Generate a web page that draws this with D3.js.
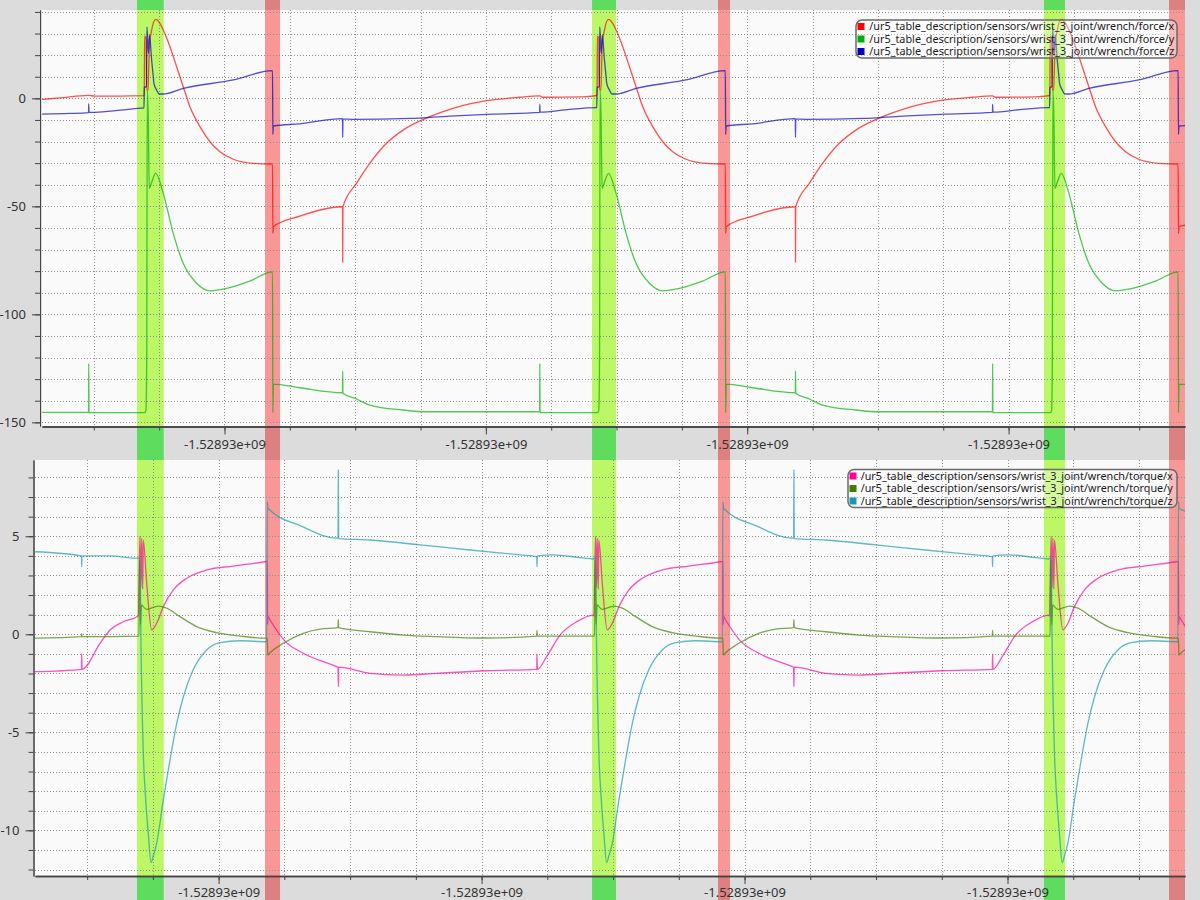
<!DOCTYPE html>
<html><head><meta charset="utf-8">
<script src="https://cdn.jsdelivr.net/npm/d3@7"></script>
<style>
body{margin:0;background:#dcdcdc;}
svg{display:block;font-family:"Noto Sans",sans-serif;}
</style>
</head><body>
<svg id="c" width="1200" height="900"></svg>
<script>
// ---------------- data ----------------
const timeDomain = [0.207, 17.70];
const xTicks = [1,2,3,4,5,6,7,8,9,10,11,12,13,14,15,16,17];
const xLabelTicks = [3,7,11,15];
const xTickLabel = "-1.52893e+09";

const forceMajorTicks = [-150,-100,-50,0];
const forceMinorTicks = [-150,-140,-130,-120,-110,-100,-90,-80,-70,-60,-50,-40,-30,-20,-10,0,10,20,30,40];
const torqueMajorTicks = [-10,-5,0,5];
const torqueMinorTicks = [-12,-11,-10,-9,-8,-7,-6,-5,-4,-3,-2,-1,0,1,2,3,4,5,6,7,8];

const greenBands = [[1.661,2.070],[8.625,8.992],[15.542,15.863]];
const redBands = [[3.620,3.850],[10.553,10.737],[17.455,17.70]];

const forceNames = ["/ur5_table_description/sensors/wrist_3_joint/wrench/force/x",
                    "/ur5_table_description/sensors/wrist_3_joint/wrench/force/y",
                    "/ur5_table_description/sensors/wrist_3_joint/wrench/force/z"];
const torqueNames = ["/ur5_table_description/sensors/wrist_3_joint/wrench/torque/x",
                     "/ur5_table_description/sensors/wrist_3_joint/wrench/torque/y",
                     "/ur5_table_description/sensors/wrist_3_joint/wrench/torque/z"];
const forceColors = ["#ff0000","#00b000","#0000c0"];
const torqueColors = ["#ff0099","#3f7f00","#1899b0"];

const forceX = [[0.208,-0.5],[0.483,0.2],[0.922,1.4],[1.018,1.0],[1.772,1.3],[1.777,28.8],[1.798,28.0],[1.810,3.8],[1.829,4.0],[1.852,25],[1.885,31.6],[1.947,36.6],[2.012,34.7],[2.063,31.6],[2.165,23.9],[2.268,14.6],[2.368,5.4],[2.471,-3.9],[2.624,-13.1],[2.777,-20.1],[2.930,-24.7],[3.133,-28.2],[3.439,-30.1],[3.720,-30.4],[3.735,-30.4],[3.740,-62.5],[3.748,-59.4],[4.153,-54.5],[4.806,-50.2],[4.809,-75.9],[4.813,-50.2],[5.020,-39.4],[5.223,-30.1],[5.479,-20.8],[5.732,-14.7],[6.141,-8.5],[6.497,-4.6],[7.008,-1.1],[7.517,0.5],[7.823,1.1],[7.873,0.5],[8.485,0.7],[8.679,1.2],
[8.702,1.3],[8.707,28.8],[8.728,28.0],[8.740,3.8],[8.759,4.0],[8.782,25],[8.815,31.6],[8.877,36.6],[8.942,34.7],[8.993,31.6],[9.095,23.9],[9.198,14.6],[9.298,5.4],[9.401,-3.9],[9.554,-13.1],[9.707,-20.1],[9.860,-24.7],[10.063,-28.2],[10.369,-30.1],[10.650,-30.4],[10.665,-30.4],[10.670,-62.5],[10.678,-59.4],[11.083,-54.5],[11.736,-50.2],[11.739,-75.9],[11.743,-50.2],[11.950,-39.4],[12.153,-30.1],[12.409,-20.8],[12.662,-14.7],[13.071,-8.5],[13.427,-4.6],[13.938,-1.1],[14.447,0.5],[14.753,1.1],[14.803,0.5],[15.415,0.7],[15.609,1.2],
[15.632,1.3],[15.637,28.8],[15.658,28.0],[15.670,3.8],[15.689,4.0],[15.712,25],[15.745,31.6],[15.807,36.6],[15.872,34.7],[15.923,31.6],[16.025,23.9],[16.128,14.6],[16.228,5.4],[16.331,-3.9],[16.484,-13.1],[16.637,-20.1],[16.790,-24.7],[16.993,-28.2],[17.299,-30.1],[17.580,-30.4],[17.595,-30.4],[17.600,-62.5],[17.608,-59.4],[17.8,-58.4]];

const forceY = [[0.208,-145.4],[0.919,-145.4],[0.922,-122.7],[0.927,-145.5],[1.775,-145.5],[1.798,-144.5],[1.810,-120],[1.818,3.8],[1.833,-8],[1.849,-41.7],[1.883,-39],[1.947,-34.7],[2.063,-44],[2.216,-62.5],[2.368,-76.4],[2.573,-85.6],[2.777,-89.1],[3.032,-88],[3.388,-84.6],[3.735,-80.3],[3.740,-145.5],[3.748,-132.3],[4.153,-134],[4.806,-136.3],[4.809,-126.3],[4.813,-136.5],[5.020,-139.2],[5.223,-142],[5.732,-144.3],[6.090,-145.1],[7.823,-145.1],[7.826,-122.7],[7.830,-145.5],[8.664,-145.5],
[8.705,-145.5],[8.728,-144.5],[8.740,-120],[8.748,3.8],[8.763,-8],[8.779,-41.7],[8.813,-39],[8.877,-34.7],[8.993,-44],[9.146,-62.5],[9.298,-76.4],[9.503,-85.6],[9.707,-89.1],[9.962,-88],[10.318,-84.6],[10.665,-80.3],[10.670,-145.5],[10.678,-132.3],[11.083,-134],[11.736,-136.3],[11.739,-126.3],[11.743,-136.5],[11.950,-139.2],[12.153,-142],[12.662,-144.3],[13.020,-145.1],[14.753,-145.1],[14.756,-122.7],[14.760,-145.5],[15.594,-145.5],
[15.635,-145.5],[15.658,-144.5],[15.670,-120],[15.678,3.8],[15.693,-8],[15.709,-41.7],[15.743,-39],[15.807,-34.7],[15.923,-44],[16.076,-62.5],[16.228,-76.4],[16.433,-85.6],[16.637,-89.1],[16.892,-88],[17.248,-84.6],[17.595,-80.3],[17.600,-145.5],[17.608,-132.3],[17.8,-132.8]];

const forceZ = [[0.208,-7.3],[0.636,-7.0],[0.919,-6.6],[0.922,-2.6],[0.927,-6.5],[1.680,-4.6],[1.768,-4.4],[1.772,5.1],[1.806,5.4],[1.813,33.1],[1.836,20.8],[1.852,29.5],[1.885,17.7],[1.910,10],[1.920,6.9],[1.962,3.8],[2.002,2.0],[2.063,2.0],[2.368,4.6],[3.133,8.5],[3.735,12.8],[3.740,-16.7],[3.748,-12.8],[4.153,-11.8],[4.806,-9.4],[4.809,-18.1],[4.813,-9.6],[4.968,-9.7],[5.835,-9.3],[6.446,-8.2],[7.109,-7.3],[7.823,-6.5],[7.826,-2.8],[7.830,-6.4],[8.281,-5.1],[8.679,-4.3],
[8.698,-4.4],[8.702,5.1],[8.736,5.4],[8.743,33.1],[8.766,20.8],[8.782,29.5],[8.815,17.7],[8.840,10],[8.850,6.9],[8.892,3.8],[8.932,2.0],[8.993,2.0],[9.298,4.6],[10.063,8.5],[10.665,12.8],[10.670,-16.7],[10.678,-12.8],[11.083,-11.8],[11.736,-9.4],[11.739,-18.1],[11.743,-9.6],[11.898,-9.7],[12.765,-9.3],[13.376,-8.2],[14.039,-7.3],[14.753,-6.5],[14.756,-2.8],[14.760,-6.4],[15.211,-5.1],[15.609,-4.3],
[15.628,-4.4],[15.632,5.1],[15.666,5.4],[15.673,33.1],[15.696,20.8],[15.712,29.5],[15.745,17.7],[15.770,10],[15.780,6.9],[15.822,3.8],[15.862,2.0],[15.923,2.0],[16.228,4.6],[16.993,8.5],[17.595,12.8],[17.600,-16.7],[17.608,-12.8],[17.8,-12.5]];

const torqueX = [[0.207,-1.91],[0.914,-1.79],[0.917,-1.0],[0.922,-1.79],[1.196,-0.46],[1.348,0.22],[1.550,0.64],[1.778,0.93],[1.804,5.0],[1.819,2.4],[1.830,4.9],[1.845,2.3],[1.854,4.8],[1.906,2.6],[1.982,0.22],[2.058,0.56],[2.159,1.41],[2.311,2.26],[2.515,2.86],[2.819,3.28],[3.223,3.48],[3.706,3.7],[3.741,3.72],[3.744,0.5],[3.751,0.9],[3.782,0.73],[4.010,-0.35],[4.288,-0.97],[4.796,-1.65],[4.816,-1.68],[4.821,-2.67],[4.826,-1.68],[5.303,-1.99],[5.809,-2.08],[6.317,-1.99],[7.078,-1.86],[7.839,-1.79],[7.843,-1.0],[7.848,-1.79],[7.990,-1.14],[8.193,-0.04],[8.447,0.64],[8.699,0.98],
[8.708,0.93],[8.734,5.0],[8.749,2.4],[8.760,4.9],[8.775,2.3],[8.784,4.8],[8.836,2.6],[8.912,0.22],[8.988,0.56],[9.089,1.41],[9.241,2.26],[9.445,2.86],[9.749,3.28],[10.153,3.48],[10.636,3.7],[10.671,3.72],[10.674,0.5],[10.681,0.9],[10.712,0.73],[10.940,-0.35],[11.218,-0.97],[11.726,-1.65],[11.746,-1.68],[11.751,-2.67],[11.756,-1.68],[12.233,-1.99],[12.739,-2.08],[13.247,-1.99],[14.008,-1.86],[14.769,-1.79],[14.773,-1.0],[14.778,-1.79],[14.920,-1.14],[15.123,-0.04],[15.377,0.64],[15.629,0.98],
[15.638,0.93],[15.664,5.0],[15.679,2.4],[15.690,4.9],[15.705,2.3],[15.714,4.8],[15.766,2.6],[15.842,0.22],[15.918,0.56],[16.019,1.41],[16.171,2.26],[16.375,2.86],[16.679,3.28],[17.083,3.48],[17.566,3.7],[17.601,3.72],[17.604,0.5],[17.611,0.9],[17.642,0.73],[17.8,-0.05]];

const torqueY = [[0.207,-0.2],[0.914,-0.12],[0.917,0.03],[0.922,-0.12],[1.789,-0.09],[1.797,3.8],[1.812,0.5],[1.827,1.5],[1.854,1.41],[1.906,1.27],[2.083,1.44],[2.210,1.33],[2.413,0.9],[2.667,0.39],[2.971,0.08],[3.325,-0.09],[3.706,-0.2],[3.741,-0.2],[3.746,-1.06],[3.782,-0.94],[3.984,-0.46],[4.288,0.05],[4.542,0.26],[4.816,0.34],[4.821,0.75],[4.826,0.34],[5.303,0.13],[5.809,-0.04],[6.317,-0.12],[7.078,-0.19],[7.839,-0.09],[7.843,0.2],[7.848,-0.09],[8.699,-0.09],
[8.719,-0.09],[8.727,3.8],[8.742,0.5],[8.757,1.5],[8.784,1.41],[8.836,1.27],[9.013,1.44],[9.140,1.33],[9.343,0.9],[9.597,0.39],[9.901,0.08],[10.255,-0.09],[10.636,-0.2],[10.671,-0.2],[10.676,-1.06],[10.712,-0.94],[10.914,-0.46],[11.218,0.05],[11.472,0.26],[11.746,0.34],[11.751,0.75],[11.756,0.34],[12.233,0.13],[12.739,-0.04],[13.247,-0.12],[14.008,-0.19],[14.769,-0.09],[14.773,0.2],[14.778,-0.09],[15.629,-0.09],
[15.649,-0.09],[15.657,3.8],[15.672,0.5],[15.687,1.5],[15.714,1.41],[15.766,1.27],[15.943,1.44],[16.070,1.33],[16.273,0.9],[16.527,0.39],[16.831,0.08],[17.185,-0.09],[17.566,-0.2],[17.601,-0.2],[17.606,-1.06],[17.642,-0.94],[17.8,-0.6]];

const torqueZ = [[0.207,4.21],[0.914,4.0],[0.917,3.45],[0.922,4.0],[1.348,4.0],[1.778,3.88],[1.804,3.9],[1.819,-0.5],[1.854,-6.0],[1.891,-8.45],[1.930,-10.15],[1.972,-11.65],[2.007,-11.3],[2.058,-10.66],[2.159,-8.45],[2.261,-6.4],[2.363,-4.54],[2.463,-3.2],[2.615,-1.8],[2.819,-0.8],[3.021,-0.43],[3.325,-0.33],[3.732,-0.38],[3.741,6.77],[3.751,6.43],[4.25,5.53],[4.796,4.9],[4.816,4.9],[4.821,8.38],[4.826,4.88],[5.303,4.81],[6.064,4.56],[6.824,4.3],[7.585,4.05],[7.839,3.96],[7.843,3.45],[7.848,4.0],[8.091,4.05],[8.497,3.91],[8.699,3.84],
[8.708,3.88],[8.734,3.9],[8.749,-0.5],[8.784,-6.0],[8.821,-8.45],[8.860,-10.15],[8.902,-11.65],[8.937,-11.3],[8.988,-10.66],[9.089,-8.45],[9.191,-6.4],[9.293,-4.54],[9.393,-3.2],[9.545,-1.8],[9.749,-0.8],[9.951,-0.43],[10.255,-0.33],[10.662,-0.38],[10.671,6.77],[10.681,6.43],[11.18,5.53],[11.726,4.9],[11.746,4.9],[11.751,8.38],[11.756,4.88],[12.233,4.81],[12.994,4.56],[13.754,4.3],[14.515,4.05],[14.769,3.96],[14.773,3.45],[14.778,4.0],[15.021,4.05],[15.427,3.91],[15.629,3.84],
[15.638,3.88],[15.664,3.9],[15.679,-0.5],[15.714,-6.0],[15.751,-8.45],[15.790,-10.15],[15.832,-11.65],[15.867,-11.3],[15.918,-10.66],[16.019,-8.45],[16.121,-6.4],[16.223,-4.54],[16.323,-3.2],[16.475,-1.8],[16.679,-0.8],[16.881,-0.43],[17.185,-0.33],[17.592,-0.38],[17.601,6.77],[17.611,6.43],[17.8,6.2]];

// ---------------- layout ----------------
const W = 1200, H = 900;
const panels = [
  {id:"top", left:42, right:1185, top:10, bottom:426, axisX:40, axisY:426.5, labelY:449,
   yDomain:[-151.7, 40.9], major:forceMajorTicks, minor:forceMinorTicks,
   series:[forceX, forceY, forceZ], names:forceNames, colors:forceColors,
   legend:{x:856, y:20, w:321, h:38, sq:857.5, tx:869.3, tl:305}},
  {id:"bot", left:35, right:1185, top:460, bottom:876, axisX:33.5, axisY:876, labelY:896.5,
   yDomain:[-12.33, 8.89], major:torqueMajorTicks, minor:torqueMinorTicks,
   series:[torqueX, torqueY, torqueZ], names:torqueNames, colors:torqueColors,
   legend:{x:848, y:469.5, w:329, h:38, sq:849.5, tx:860.7, tl:312}}
];

const svg = d3.select("#c");
svg.append("rect").attr("width",W).attr("height",H).attr("fill","#dcdcdc");

// band overlay (same pixels in both panels)
const bandX = d3.scaleLinear().domain(timeDomain).range([panels[0].left, panels[0].right]);
const bandDark = {g:"#5edc5e", r:"#dc8080"};
const bandLight = {g:"#bcf766", r:"#f99696"};

function drawBands(g, y0, y1, colors){
  g.selectAll(null).data(greenBands).enter().append("rect")
    .attr("x",d=>bandX(d[0])).attr("width",d=>bandX(d[1])-bandX(d[0]))
    .attr("y",y0).attr("height",y1-y0).attr("fill",colors.g);
  g.selectAll(null).data(redBands).enter().append("rect")
    .attr("x",d=>bandX(d[0])).attr("width",d=>bandX(d[1])-bandX(d[0]))
    .attr("y",y0).attr("height",y1-y0).attr("fill",colors.r);
}
drawBands(svg.append("g"), 0, H, bandDark);

panels.forEach((p,pi)=>{
  const x = d3.scaleLinear().domain(timeDomain).range([p.left, p.right]);
  const y = d3.scaleLinear().domain(p.yDomain).range([p.bottom, p.top]);
  const g = svg.append("g");

  g.append("rect").attr("x",p.left).attr("y",p.top).attr("width",p.right-p.left)
    .attr("height",p.bottom-p.top).attr("fill","#fafafa");
  const clipId = "clip"+pi;
  svg.append("clipPath").attr("id",clipId).append("rect")
    .attr("x",p.left).attr("y",p.top).attr("width",p.right-p.left).attr("height",p.bottom-p.top);
  const inner = g.append("g").attr("clip-path",`url(#${clipId})`);
  drawBands(inner, p.top, p.bottom, bandLight);

  // grid
  inner.selectAll(null).data(p.minor).enter().append("line")
    .attr("x1",p.left).attr("x2",p.right).attr("y1",d=>Math.round(y(d))+0.5).attr("y2",d=>Math.round(y(d))+0.5)
    .attr("stroke","#909090").attr("stroke-width",1).attr("stroke-dasharray","1,2");
  inner.selectAll(null).data(xTicks).enter().append("line")
    .attr("y1",p.top).attr("y2",p.bottom).attr("x1",d=>Math.round(x(d))+0.5).attr("x2",d=>Math.round(x(d))+0.5)
    .attr("stroke","#909090").attr("stroke-width",1).attr("stroke-dasharray","1,2");

  // series
  const line = d3.line().x(d=>x(d[0])).y(d=>y(d[1])).curve(d3.curveMonotoneX);
  p.series.forEach((s,i)=>{
    inner.append("path").datum(s).attr("d",line).attr("fill","none")
      .attr("stroke",p.colors[i]).attr("stroke-opacity",0.68).attr("stroke-width",1.3)
      .attr("stroke-linejoin","round");
  });

  // y axis
  const yMinor = d3.axisLeft(y).tickValues(p.minor).tickSize(5).tickFormat("").tickSizeOuter(0);
  const yMajor = d3.axisLeft(y).tickValues(p.major).tickSize(8).tickSizeOuter(0).tickPadding(6)
      .tickFormat(d=>d3.format("d")(d).replace("−","-"));
  const ya1 = g.append("g").attr("transform",`translate(${p.axisX},0)`).call(yMinor);
  const ya2 = g.append("g").attr("transform",`translate(${p.axisX},0)`).call(yMajor);
  [ya1,ya2].forEach(a=>{
    a.select(".domain").attr("stroke","#444");
    a.selectAll(".tick line").attr("stroke","#444");
    a.selectAll("text").attr("font-size",13).attr("fill","#333").attr("font-family",'"Noto Sans",sans-serif');
  });

  // x axis
  const xMinor = d3.axisBottom(x).tickValues(xTicks).tickSize(4).tickFormat("").tickSizeOuter(0);
  const xMajor = d3.axisBottom(x).tickValues(xLabelTicks).tickSize(8).tickSizeOuter(0)
      .tickFormat(()=>xTickLabel);
  const xa1 = g.append("g").attr("transform",`translate(0,${p.axisY})`).call(xMinor);
  const xa2 = g.append("g").attr("transform",`translate(0,${p.axisY})`).call(xMajor);
  [xa1,xa2].forEach(a=>{
    a.select(".domain").attr("stroke","#444").attr("stroke-width",1.3);
    a.selectAll(".tick line").attr("stroke","#444");
    a.selectAll("text").attr("font-size",13).attr("fill","#333")
      .attr("font-family",'"Noto Sans",sans-serif').attr("dy",null);
  });
  xa2.selectAll(".tick text").attr("y", p.labelY - p.axisY);

  // legend
  const L = p.legend;
  const lg = g.append("g");
  lg.append("rect").attr("x",L.x).attr("y",L.y).attr("width",L.w).attr("height",L.h)
    .attr("rx",6).attr("ry",6).attr("fill","rgba(255,255,255,0.35)")
    .attr("stroke","#6a6a6a").attr("stroke-width",1.5);
  p.names.forEach((n,i)=>{
    const cy = L.y + 6.5 + i*12.5;
    lg.append("rect").attr("x",L.sq).attr("y",cy-3.5).attr("width",7).attr("height",7).attr("fill",p.colors[i]);
    lg.append("text").attr("x",L.tx).attr("y",cy+3.8).text(n)
      .attr("font-size",10.5).attr("fill","#1a1a1a")
      .attr("textLength",L.tl).attr("lengthAdjust","spacingAndGlyphs");
  });
});
</script>
</body></html>
